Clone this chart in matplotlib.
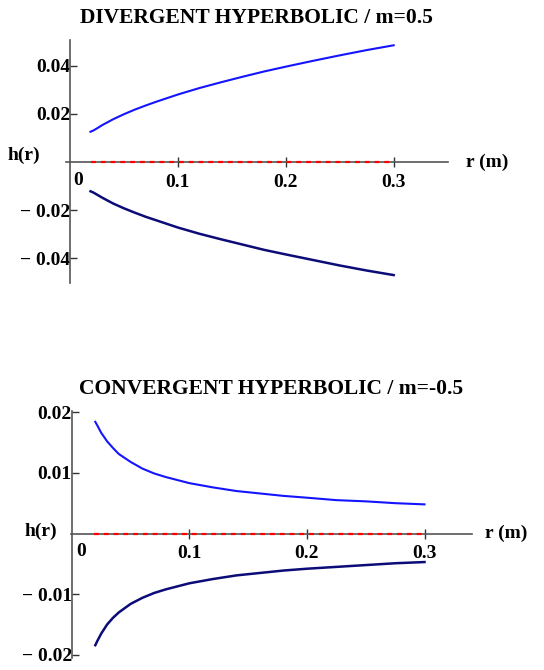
import matplotlib
matplotlib.use("Agg")
import matplotlib.pyplot as plt

# values
r_div = [0.019, 0.022, 0.025, 0.03, 0.035, 0.04, 0.05, 0.06, 0.07, 0.08, 0.09, 0.1,
         0.12, 0.14, 0.16, 0.18, 0.2, 0.225, 0.25, 0.275, 0.3]
h_div_up = [0.0126, 0.0132, 0.0140, 0.0154, 0.0166, 0.0178, 0.0199, 0.0218, 0.0235, 0.0251, 0.0266, 0.0281,
            0.0308, 0.0332, 0.0355, 0.0377, 0.0397, 0.0421, 0.0444, 0.0466, 0.0486]
h_div_low = [-0.0122, -0.0128, -0.0136, -0.0149, -0.0161, -0.0173, -0.0193, -0.0211, -0.0228, -0.0243, -0.0258, -0.0273,
             -0.0299, -0.0322, -0.0344, -0.0366, -0.0385, -0.0408, -0.0431, -0.0452, -0.0471]

r_conv = [0.02, 0.022, 0.025, 0.03, 0.035, 0.04, 0.05, 0.06, 0.07, 0.08, 0.09, 0.1,
          0.12, 0.14, 0.16, 0.18, 0.2, 0.225, 0.25, 0.275, 0.3]
h_conv_up = [0.0184, 0.0177, 0.0166, 0.0152, 0.0141, 0.0131, 0.0118, 0.0107, 0.0099, 0.0093, 0.0088, 0.0083,
             0.0076, 0.0070, 0.0066, 0.0062, 0.0059, 0.0055, 0.0053, 0.0050, 0.0048]
h_conv_low = [-0.0184, -0.0176, -0.0165, -0.0150, -0.0139, -0.0130, -0.0116, -0.0106, -0.0098, -0.0092, -0.0087, -0.0082,
              -0.0075, -0.0069, -0.0065, -0.0061, -0.0058, -0.0055, -0.0052, -0.0049, -0.0047]

zero_r = [0.019, 0.3]
zero_h = [0, 0]

titles = ["DIVERGENT HYPERBOLIC / m=0.5", "CONVERGENT HYPERBOLIC / m=-0.5"]
div_yticks = [-0.04, -0.02, 0.02, 0.04]
conv_yticks = [-0.02, -0.01, 0.01, 0.02]
xticks = [0.1, 0.2, 0.3]

font = {"family": "Liberation Serif", "weight": "bold"}
fs = 14
blue = "#1414ff"
navy = "#0c0c78"


def fmt(v):
    if v < 0:
        return "\u2212 " + ("%g" % -v)
    return "%g" % v


def style_axes(ax, yticks, title):
    for s in ["top", "right"]:
        ax.spines[s].set_visible(False)
    ax.spines["left"].set_position(("data", 0))
    ax.spines["bottom"].set_position(("data", 0))
    for s in ["left", "bottom"]:
        ax.spines[s].set_color("#555555")
        ax.spines[s].set_linewidth(1.2)
    ax.set_xticks(xticks)
    ax.set_xticklabels([fmt(v) for v in xticks], fontdict=font, fontsize=fs)
    ax.set_yticks(yticks)
    ax.set_yticklabels([fmt(v) for v in yticks], fontdict=font, fontsize=fs)
    ax.tick_params(axis="x", direction="inout", length=7, width=1, pad=5, colors="#333333",
                   labelcolor="black")
    ax.tick_params(axis="y", direction="in", length=5, width=1, pad=0, colors="#333333",
                   labelcolor="black")
    ax.set_title(title, fontdict=font, fontsize=15.5, pad=12)


fig = plt.figure(figsize=(5.44, 6.70), dpi=100)

# top panel
ax1 = fig.add_axes([0.1208, 0.5776, 0.702, 0.3627])
ax1.plot(zero_r, zero_h, color="red", lw=1.6, linestyle=(0, (2.2, 2.2)), zorder=4)
ax1.plot(r_div, h_div_up, color=blue, lw=1.5)
ax1.plot(r_div, h_div_low, color=navy, lw=1.8)
ax1.set_xlim(-0.004, 0.35)
ax1.set_ylim(-0.0504, 0.0508)
style_axes(ax1, div_yticks, titles[0])
ax1.text(0.0075, -0.0040, "0", fontdict=font, fontsize=fs, ha="center", va="top")
ax1.text(-0.0575, 0.0027, "h(r)", fontdict=font, fontsize=fs, ha="left", va="center")
ax1.text(0.3667, 0.0, "r (m)", fontdict=font, fontsize=fs, ha="left", va="center")

# bottom panel
ax2 = fig.add_axes([0.1298, 0.018, 0.737, 0.3687])
ax2.plot(zero_r, zero_h, color="red", lw=1.6, linestyle=(0, (2.2, 2.2)), zorder=4)
ax2.plot(r_conv, h_conv_up, color=blue, lw=1.5)
ax2.plot(r_conv, h_conv_low, color=navy, lw=1.8)
ax2.set_xlim(-0.001, 0.34)
ax2.set_ylim(-0.0205, 0.0202)
style_axes(ax2, conv_yticks, titles[1])
ax2.text(0.0078, -0.0016, "0", fontdict=font, fontsize=fs, ha="center", va="top")
ax2.text(-0.040, 0.0003, "h(r)", fontdict=font, fontsize=fs, ha="left", va="center")
ax2.text(0.3517, 0.0, "r (m)", fontdict=font, fontsize=fs, ha="left", va="center")

fig.savefig("out.png", dpi=100)
